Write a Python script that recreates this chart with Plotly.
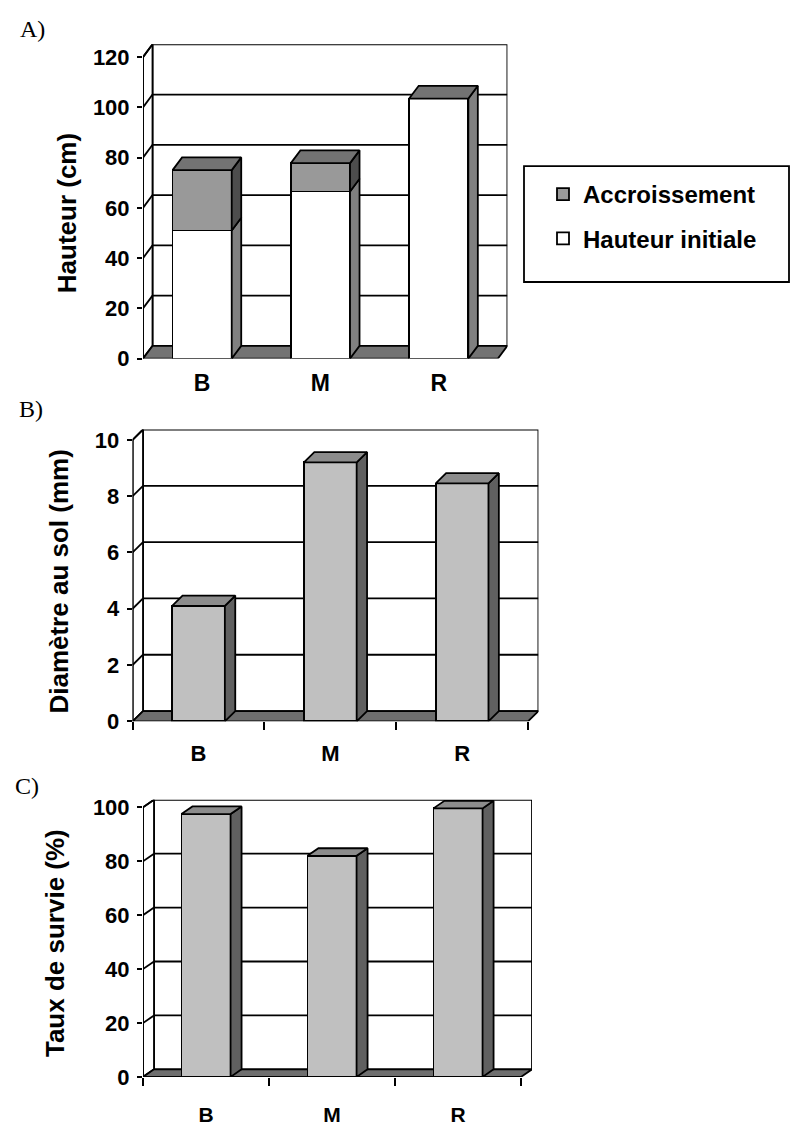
import plotly.graph_objects as go

W, H = 790, 1126

# ---------------- data ----------------
categories = ["B", "M", "R"]
hauteur_initiale = [51, 66.5, 103.5]      # cm
accroissement = [24, 11.3, 0]             # cm
diametre_sol = [4.1, 9.2, 8.45]           # mm
taux_survie = [97.5, 82, 99.6]            # %

yticks_A = [0, 20, 40, 60, 80, 100, 120]
yticks_B = [0, 2, 4, 6, 8, 10]
yticks_C = [0, 20, 40, 60, 80, 100]

# ---------------- style / geometry (pixels) ----------------
FONT = "Liberation Sans, Arial, sans-serif"
SERIF = "Liberation Serif, Times New Roman, serif"
panels = {
    "A": dict(ax="x", ay="y", x0=143, cat=118.3, dx=9.5, y0=360, unit=2.558, dy=13,
              ticks=yticks_A, bw=0.50, tickfont=22, xfont=23, minor=False, standoff=8,
              floor="#737373", title="Hauteur (cm)", tx=67, ty=212, label="A)", lx=18, ly=24),
    "B": dict(ax="x2", ay="y2", x0=132.6, cat=131.8, dx=10.4, y0=729.3, unit=28.66, dy=10.5,
              ticks=yticks_B, bw=0.40, tickfont=22, xfont=22, minor=True, standoff=17,
              floor="#6e6e6e", title="Diamètre au sol (mm)", tx=59, ty=587, label="B)", lx=17, ly=411),
    "C": dict(ax="x3", ay="y3", x0=143, cat=126.0, dx=11, y0=1091.3, unit=2.745, dy=7.7,
              ticks=yticks_C, bw=0.39, tickfont=22, xfont=21, minor=True, standoff=23,
              floor="#6e6e6e", title="Taux de survie (%)", tx=55, ty=955, label="C)", lx=13, ly=795),
}
LW = 1.8
xpos = [i + 0.5 for i in range(len(categories))]
ncat = len(categories)

fig = go.Figure()
shapes = []
annotations = []
layout_axes = {}


def face(ax, ay, xs, ys, color):
    fig.add_trace(go.Scatter(x=xs + [xs[0]], y=ys + [ys[0]], mode="lines", fill="toself",
                             fillcolor=color, line=dict(color="black", width=LW),
                             xaxis=ax, yaxis=ay, showlegend=False, hoverinfo="skip"))


def bar3d(p, centers, bottoms, tops, side_color, top_color=None):
    ddx = p["dx"] / p["cat"]
    ddy = p["dy"] / p["unit"]
    hw = p["bw"] / 2
    for c, b, t in zip(centers, bottoms, tops):
        xr = c + hw
        if t - b > 0:
            face(p["ax"], p["ay"], [xr, xr + ddx, xr + ddx, xr], [b, b + ddy, t + ddy, t], side_color)
        if top_color:
            face(p["ax"], p["ay"], [c - hw, xr, xr + ddx, c - hw + ddx], [t, t, t + ddy, t + ddy], top_color)


for key, p in panels.items():
    ddx = p["dx"] / p["cat"]
    ddy = p["dy"] / p["unit"]
    ymax = p["ticks"][-1]
    xr = ncat + ddx
    yr = ymax + ddy
    xa = "xaxis" + p["ax"][1:]
    ya = "yaxis" + p["ay"][1:]
    px_right = p["x0"] + xr * p["cat"]
    px_top = p["y0"] - yr * p["unit"]
    layout_axes[xa] = dict(
        domain=[p["x0"] / W, px_right / W], range=[0, xr], anchor=p["ay"],
        showgrid=False, zeroline=False, showline=False,
        tickmode="array", tickvals=xpos, ticktext=categories, ticks="",
        tickfont=dict(family=FONT, size=p["xfont"], color="black", weight="bold"),
        ticklabelstandoff=p["standoff"], fixedrange=True,
    )
    if p["minor"]:
        layout_axes[xa]["minor"] = dict(tickmode="array", tickvals=list(range(ncat + 1)),
                                         ticks="outside", ticklen=8, tickwidth=LW, tickcolor="black")
    layout_axes[ya] = dict(
        domain=[1 - p["y0"] / H, 1 - px_top / H], range=[0, yr], anchor=p["ax"],
        showgrid=False, zeroline=False, showline=False,
        tickmode="array", tickvals=p["ticks"], ticks="outside", ticklen=5,
        tickwidth=LW, tickcolor="black",
        tickfont=dict(family=FONT, size=p["tickfont"], color="black", weight="bold"),
        ticklabelstandoff=3, fixedrange=True,
    )
    xref, yref = p["ax"], p["ay"]
    base = dict(xref=xref, yref=yref, layer="below")
    # back wall
    shapes.append(dict(type="rect", x0=ddx, y0=ddy, x1=xr, y1=yr, fillcolor="white",
                       line=dict(color="black", width=LW), **base))
    # left wall
    shapes.append(dict(type="path", path=f"M0,0 L{ddx},{ddy} L{ddx},{yr} L0,{ymax} Z",
                       fillcolor="white", line=dict(color="black", width=LW), **base))
    # gridlines on back wall and left wall
    for v in p["ticks"][1:-1]:
        shapes.append(dict(type="line", x0=ddx, y0=v + ddy, x1=xr, y1=v + ddy,
                           line=dict(color="black", width=LW), **base))
    for v in p["ticks"][1:]:
        shapes.append(dict(type="line", x0=0, y0=v, x1=ddx, y1=v + ddy,
                           line=dict(color="black", width=LW), **base))
    # floor
    shapes.append(dict(type="path", path=f"M0,0 L{ncat},0 L{xr},{ddy} L{ddx},{ddy} Z",
                       fillcolor=p["floor"], line=dict(color="black", width=LW), **base))
    # axis line
    shapes.append(dict(type="line", x0=0, y0=0, x1=0, y1=ymax,
                       line=dict(color="black", width=LW), **base))
    # titles and panel labels
    annotations.append(dict(text=p["title"], x=p["tx"] / W, y=1 - p["ty"] / H, xref="paper", yref="paper",
                            textangle=-90, showarrow=False, xanchor="center", yanchor="middle",
                            font=dict(family=FONT, size=26, color="black", weight="bold")))
    annotations.append(dict(text=p["label"], x=p["lx"] / W, y=1 - p["ly"] / H, xref="paper", yref="paper",
                            showarrow=False, xanchor="left", yanchor="middle",
                            font=dict(family=SERIF, size=24, color="black")))

# ---------------- panel A: stacked bars ----------------
pA = panels["A"]
fig.add_trace(go.Bar(x=xpos, y=hauteur_initiale, width=pA["bw"], name="Hauteur initiale",
                     marker=dict(color="white", line=dict(color="black", width=LW)),
                     xaxis="x", yaxis="y", legendgroup="hi", legendrank=2, hoverinfo="skip"))
fig.add_trace(go.Bar(x=xpos, y=accroissement, width=pA["bw"], name="Accroissement",
                     marker=dict(color="#999999", line=dict(color="black", width=LW)),
                     xaxis="x", yaxis="y", legendgroup="ac", legendrank=1, hoverinfo="skip"))
totals = [a + b for a, b in zip(hauteur_initiale, accroissement)]
bar3d(pA, xpos, [0] * ncat, hauteur_initiale, "#808080")
bar3d(pA, xpos, hauteur_initiale, totals, "#4d4d4d", "#737373")

# ---------------- panel B ----------------
pB = panels["B"]
fig.add_trace(go.Bar(x=xpos, y=diametre_sol, width=pB["bw"], showlegend=False,
                     marker=dict(color="#c0c0c0", line=dict(color="black", width=LW)),
                     xaxis="x2", yaxis="y2", hoverinfo="skip"))
bar3d(pB, xpos, [0] * ncat, diametre_sol, "#606060", "#8c8c8c")

# ---------------- panel C ----------------
pC = panels["C"]
fig.add_trace(go.Bar(x=xpos, y=taux_survie, width=pC["bw"], showlegend=False,
                     marker=dict(color="#c0c0c0", line=dict(color="black", width=LW)),
                     xaxis="x3", yaxis="y3", hoverinfo="skip"))
bar3d(pC, xpos, [0] * ncat, taux_survie, "#606060", "#8c8c8c")

# legend frame
shapes.append(dict(type="rect", xref="paper", yref="paper", x0=524 / W, x1=789 / W,
                   y0=1 - 282 / H, y1=1 - 164 / H, fillcolor="white",
                   line=dict(color="black", width=LW), layer="below"))

fig.update_layout(
    width=W, height=H, margin=dict(l=0, r=0, t=0, b=0),
    paper_bgcolor="white", plot_bgcolor="rgba(0,0,0,0)",
    barmode="stack", shapes=shapes, annotations=annotations,
    legend=dict(x=543 / W, y=1 - 170 / H, xanchor="left", yanchor="top",
                bgcolor="rgba(0,0,0,0)", borderwidth=0,
                traceorder="grouped", tracegroupgap=10,
                font=dict(family=FONT, size=24, color="black", weight="bold")),
    **layout_axes,
)
fig.write_html("out.html")
